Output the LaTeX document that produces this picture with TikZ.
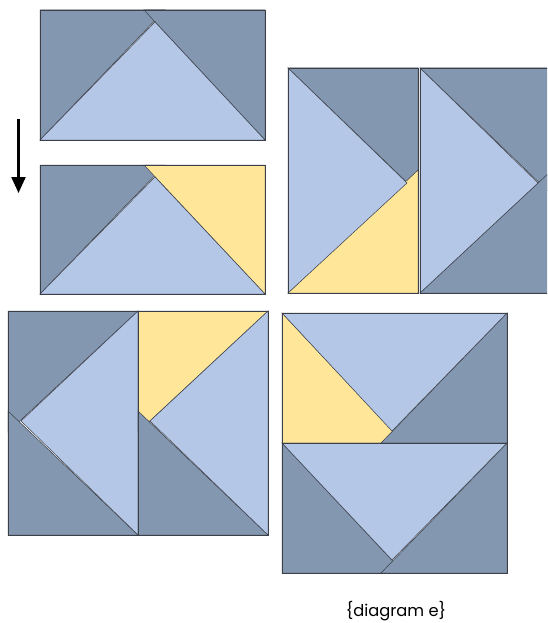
\documentclass[tikz,border=0pt]{standalone}
\usepackage{fontspec}
\setmainfont{Poppins}
\usetikzlibrary{arrows.meta}
\definecolor{dkc}{HTML}{8497B0}
\definecolor{ltc}{HTML}{B4C7E7}
\definecolor{ylc}{HTML}{FFE699}
\definecolor{edgec}{HTML}{3A3F48}
\tikzset{
  piece/.style={draw=edgec, line width=0.5pt, line join=miter},
  dk/.style={piece, fill=dkc},
  lt/.style={piece, fill=ltc},
  yl/.style={piece, fill=ylc},
  frame/.style={draw=edgec, line width=0.8pt},
  label/.style={font=\fontsize{16.3}{19}\selectfont, text=black, inner sep=0pt}
}
\begin{document}
\begin{tikzpicture}[x=1pt,y=-1pt]
\useasboundingbox (0,0) rectangle (547,623);
\begin{scope}
\clip (0,0) rectangle (547,623);
% Block 1
\fill[dk] (40,10) -- (165,10) -- (40,140) -- cycle;
\fill[dk] (144,10) -- (265,10) -- (265,140) -- cycle;
\fill[lt] (40,140) -- (155,22) -- (265,140) -- cycle;
\draw[frame] (40,10) rectangle (265,140);
% Block 2
\fill[dk] (40,165) -- (165,165) -- (40,294) -- cycle;
\fill[yl] (144,165) -- (265,165) -- (265,294) -- cycle;
\fill[lt] (40,294) -- (155,177) -- (265,294) -- cycle;
\draw[frame] (40,165) rectangle (265,294);
% Arrow
\coordinate (a1) at (18.5,119);
\coordinate (a2) at (18.5,193);
\draw[line width=2.2pt, -{Triangle[length=16pt,width=14pt]}] (a1) -- (a2);
% Block 3 left
\fill[dk] (288,68) -- (418,68) -- (418,193) -- cycle;
\fill[yl] (288,293) -- (418,170) -- (418,293) -- cycle;
\fill[lt] (288,68) -- (407,183) -- (288,293) -- cycle;
\draw[frame] (288,68) rectangle (418,293);
% Block 3 right
\fill[dk] (420,68) -- (552,68) -- (552,195) -- cycle;
\fill[dk] (420,293) -- (552,293) -- (552,170) -- cycle;
\fill[lt] (420,68) -- (538,183) -- (420,293) -- cycle;
\draw[frame] (420,68) rectangle (552,293);
% Block 4 left
\fill[dk] (8,311) -- (138,311) -- (8,432) -- cycle;
\fill[dk] (8,411) -- (8,535) -- (138,535) -- cycle;
\fill[lt] (138,311) -- (21,421) -- (138,535) -- cycle;
\draw[frame] (8,311) rectangle (138,535);
% Block 4 right
\fill[yl] (138,311) -- (268,311) -- (138,432) -- cycle;
\fill[dk] (138,411) -- (138,535) -- (268,535) -- cycle;
\fill[lt] (268,311) -- (150,421) -- (268,535) -- cycle;
\draw[frame] (138,311) rectangle (268,535);
% Block 5 top
\fill[yl] (282,313) -- (282,443) -- (404,443) -- cycle;
\fill[dk] (507,313) -- (507,443) -- (381,443) -- cycle;
\fill[lt] (282,313) -- (507,313) -- (392,431) -- cycle;
\draw[frame] (282,313) rectangle (507,443);
% Block 5 bottom
\fill[dk] (282,443) -- (282,573) -- (404,573) -- cycle;
\fill[dk] (507,443) -- (507,573) -- (381,573) -- cycle;
\fill[lt] (282,443) -- (507,443) -- (392,560) -- cycle;
\draw[frame] (282,443) rectangle (507,573);
\end{scope}
\node[label] (cap) at (396,611) {\{diagram e\}};
\end{tikzpicture}
\end{document}
